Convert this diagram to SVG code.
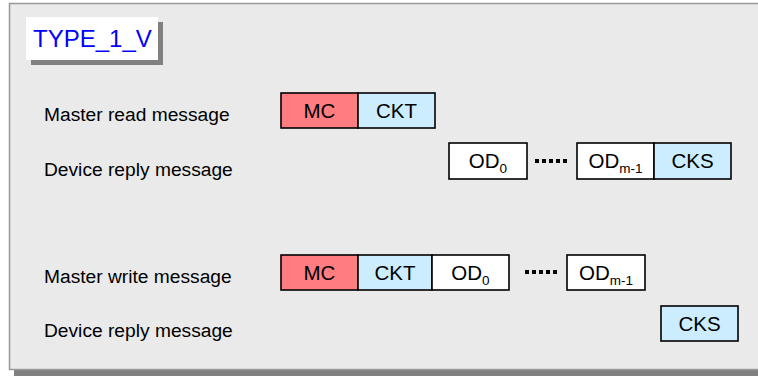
<svg xmlns="http://www.w3.org/2000/svg" width="758" height="376" viewBox="0 0 758 376">
<style>
.lbl{font-family:"Liberation Sans",Arial,sans-serif;font-size:19.2px;fill:#000}
.bt{font-family:"Liberation Sans",Arial,sans-serif;font-size:20.5px;fill:#000;text-anchor:middle}
.sub{font-size:13.5px}
.box{stroke:#000;stroke-width:1.6}
.w{fill:#fff}.r{fill:#FF7C80}.b{fill:#CCECFF}
.dots{stroke:#000;stroke-width:4;stroke-dasharray:4 3}
</style>
<rect x="14" y="8" width="750" height="368" fill="#808080"/>
<rect x="9.5" y="3.5" width="752" height="366" fill="#EAEAEA" stroke="#999" stroke-width="1.5"/>
<g id="title">
<rect x="31" y="22" width="132" height="43" fill="#808080"/>
<rect x="26" y="17" width="132" height="43" fill="#fff"/>
<text x="33" y="47" font-family="Liberation Sans,Arial,sans-serif" font-size="24" fill="#0000FF">TYPE_1_V</text>
</g>
<g id="labels">
<text class="lbl" x="44" y="121">Master read message</text>
<text class="lbl" x="44" y="176">Device reply message</text>
<text class="lbl" x="44" y="283">Master write message</text>
<text class="lbl" x="44" y="337">Device reply message</text>
</g>
<g id="row1">
<rect class="box r" x="281" y="93" width="77" height="35"/>
<text class="bt" x="319.5" y="117.5">MC</text>
<rect class="box b" x="358" y="93" width="77" height="35"/>
<text class="bt" x="396.5" y="117.5">CKT</text>
</g>
<g id="row2">
<rect class="box w" x="449" y="143" width="78" height="36"/>
<text class="bt" x="488" y="168">OD<tspan class="sub" dy="5">0</tspan></text>
<rect class="box w" x="577" y="143" width="77" height="36"/>
<text class="bt" x="615.5" y="168">OD<tspan class="sub" dy="5">m-1</tspan></text>
<rect class="box b" x="654" y="143" width="77" height="36"/>
<text class="bt" x="692.5" y="168">CKS</text>
</g>
<g id="row3">
<rect class="box r" x="281" y="255" width="77" height="35"/>
<text class="bt" x="319.5" y="279.5">MC</text>
<rect class="box b" x="358" y="255" width="74" height="35"/>
<text class="bt" x="395" y="279.5">CKT</text>
<rect class="box w" x="432" y="255" width="77" height="35"/>
<text class="bt" x="470.5" y="279.5">OD<tspan class="sub" dy="5">0</tspan></text>
<rect class="box w" x="567" y="255" width="78" height="35"/>
<text class="bt" x="606" y="279.5">OD<tspan class="sub" dy="5">m-1</tspan></text>
</g>
<g id="row4">
<rect class="box b" x="661" y="306" width="77" height="35"/>
<text class="bt" x="699.5" y="330.5">CKS</text>
</g>
<g id="connectors">
<line class="dots" x1="535" y1="161" x2="569" y2="161"/>
<line class="dots" x1="525" y1="272" x2="559" y2="272"/>
</g>
</svg>
